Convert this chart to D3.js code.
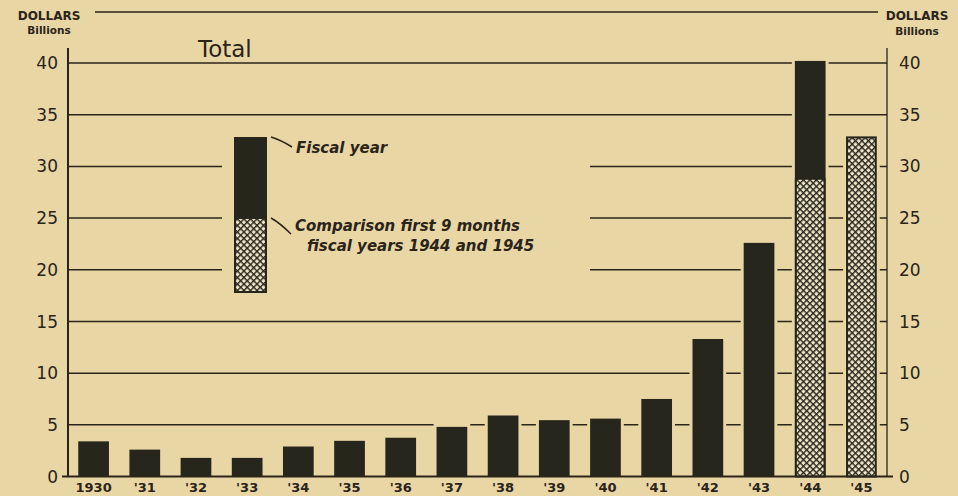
<!DOCTYPE html>
<html>
<head>
<meta charset="utf-8">
<script src="https://cdn.jsdelivr.net/npm/d3@7"></script>
<style>
  html, body { margin: 0; padding: 0; background: #e9d6a5; }
  svg { display: block; }
  text { font-family: "DejaVu Sans", sans-serif; fill: #2a2419; }
</style>
</head>
<body>
<div id="chart"></div>
<script>
// fiscal years shown on the x axis
var years = ["1930", "'31", "'32", "'33", "'34", "'35", "'36", "'37", "'38", "'39", "'40", "'41", "'42", "'43", "'44", "'45"];
// full fiscal year totals, billions of dollars (1945 not yet complete)
var fiscalYear = [3.4, 2.6, 1.8, 1.8, 2.9, 3.45, 3.75, 4.8, 5.9, 5.45, 5.6, 7.5, 13.3, 22.6, 40.2, null];
// first 9 months comparison, fiscal 1944 and 1945
var nineMonths = [null, null, null, null, null, null, null, null, null, null, null, null, null, null, 28.9, 32.9];
var yTicks = [0, 5, 10, 15, 20, 25, 30, 35, 40];

var W = 958, H = 496;
var bg = "#e9d6a5", ink = "#2a2419", barInk = "#26261d";
var plotL = 68, plotR = 887, plotT = 63, plotB = 476.5;

var svg = d3.select("#chart").append("svg").attr("width", W).attr("height", H);
svg.append("rect").attr("width", W).attr("height", H).attr("fill", bg);

// cross hatch for the 9-month parts
var defs = svg.append("defs");
var pat = defs.append("pattern").attr("id", "hatch").attr("patternUnits", "userSpaceOnUse")
	.attr("width", 4.6).attr("height", 4.6).attr("patternTransform", "rotate(45)");
pat.append("rect").attr("width", 4.6).attr("height", 4.6).attr("fill", "#f1e6c8");
pat.append("line").attr("x1", 0).attr("y1", 0).attr("x2", 4.6).attr("y2", 0).attr("stroke", barInk).attr("stroke-width", 2.8);
pat.append("line").attr("x1", 0).attr("y1", 0).attr("x2", 0).attr("y2", 4.6).attr("stroke", barInk).attr("stroke-width", 2.8);

var x = d3.scaleBand().domain(years).range([plotL, plotR]).paddingInner(0.4).paddingOuter(0.2);
var y = d3.scaleLinear().domain([0, 40]).range([plotB, plotT]);

// gridlines
svg.append("g").selectAll("line").data(yTicks.filter(function(d) { return d > 0; })).enter().append("line")
	.attr("x1", plotL).attr("x2", plotR)
	.attr("y1", function(d) { return y(d); }).attr("y2", function(d) { return y(d); })
	.attr("stroke", ink).attr("stroke-width", 1.5);

// blank space behind the legend
svg.append("rect").attr("x", 222).attr("y", 128).attr("width", 368).attr("height", 168).attr("fill", bg);

// top rule and axes
svg.append("line").attr("x1", 95).attr("x2", 878).attr("y1", 12).attr("y2", 12).attr("stroke", ink).attr("stroke-width", 1.6);
svg.append("line").attr("x1", plotL).attr("x2", plotL).attr("y1", 48).attr("y2", plotB).attr("stroke", ink).attr("stroke-width", 2);
svg.append("line").attr("x1", plotR).attr("x2", plotR).attr("y1", 48).attr("y2", plotB).attr("stroke", ink).attr("stroke-width", 1.3);

// bars: halo first so gridlines break around them
var bars = svg.append("g");
years.forEach(function(yr, i) {
	var bx = x(yr), bw = x.bandwidth();
	var topVal = fiscalYear[i] != null ? fiscalYear[i] : nineMonths[i];
	bars.append("rect").attr("x", bx - 3).attr("y", y(topVal) - 3).attr("width", bw + 6)
		.attr("height", plotB - y(topVal) + 3).attr("fill", bg);
});
years.forEach(function(yr, i) {
	var bx = x(yr), bw = x.bandwidth();
	if (fiscalYear[i] != null) {
		bars.append("rect").attr("x", bx).attr("y", y(fiscalYear[i])).attr("width", bw)
			.attr("height", plotB - y(fiscalYear[i])).attr("fill", barInk);
	}
	if (nineMonths[i] != null) {
		bars.append("rect").attr("x", bx + 1).attr("y", y(nineMonths[i]) + 1).attr("width", bw - 2)
			.attr("height", plotB - y(nineMonths[i]) - 1).attr("fill", "url(#hatch)")
			.attr("stroke", barInk).attr("stroke-width", 2);
	}
});

// baseline
svg.append("line").attr("x1", 62).attr("x2", plotR + 6).attr("y1", plotB).attr("y2", plotB).attr("stroke", ink).attr("stroke-width", 2.2);

// y labels, both sides
svg.append("g").selectAll("text").data(yTicks).enter().append("text")
	.attr("x", 58).attr("y", function(d) { return y(d); }).attr("dy", "0.36em")
	.attr("text-anchor", "end").attr("font-size", 17).text(function(d) { return d; });
svg.append("g").selectAll("text").data(yTicks).enter().append("text")
	.attr("x", 899).attr("y", function(d) { return y(d); }).attr("dy", "0.36em")
	.attr("text-anchor", "start").attr("font-size", 17).text(function(d) { return d; });

// x labels
svg.append("g").selectAll("text").data(years).enter().append("text")
	.attr("x", function(d) { return x(d) + x.bandwidth() / 2; }).attr("y", 492)
	.attr("text-anchor", "middle").attr("font-size", 13).attr("font-weight", "bold")
	.text(function(d) { return d; });

// unit captions
[[49, 20, 34], [917, 20, 35]].forEach(function(p) {
	svg.append("text").attr("x", p[0]).attr("y", p[1]).attr("text-anchor", "middle")
		.attr("font-size", 12).attr("font-weight", "bold").text("DOLLARS");
	svg.append("text").attr("x", p[0]).attr("y", p[2]).attr("text-anchor", "middle")
		.attr("font-size", 10.5).attr("font-weight", "bold").text("Billions");
});

svg.append("text").attr("x", 198).attr("y", 57).attr("font-size", 23).attr("font-weight", 500).text("Total");

// legend
var lx = 234, lw = 33, ltop = 137, lmid = 218, lbot = 292;
svg.append("rect").attr("x", lx).attr("y", ltop).attr("width", lw).attr("height", lmid - ltop).attr("fill", barInk);
svg.append("rect").attr("x", lx + 1).attr("y", lmid).attr("width", lw - 2).attr("height", lbot - lmid)
	.attr("fill", "url(#hatch)").attr("stroke", barInk).attr("stroke-width", 2);
svg.append("path").attr("d", "M271,137 Q281,140 292,147").attr("fill", "none").attr("stroke", ink).attr("stroke-width", 1.5);
svg.append("path").attr("d", "M271,218 Q280,223 291,234").attr("fill", "none").attr("stroke", ink).attr("stroke-width", 1.5);
svg.append("text").attr("x", 296).attr("y", 153).attr("font-size", 15).attr("font-style", "italic").attr("font-weight", "bold").text("Fiscal year");
svg.append("text").attr("x", 295).attr("y", 231).attr("font-size", 15).attr("font-style", "italic").attr("font-weight", "bold").text("Comparison first 9 months");
svg.append("text").attr("x", 307).attr("y", 251).attr("font-size", 15).attr("font-style", "italic").attr("font-weight", "bold").text("fiscal years 1944 and 1945");
</script>
</body>
</html>
